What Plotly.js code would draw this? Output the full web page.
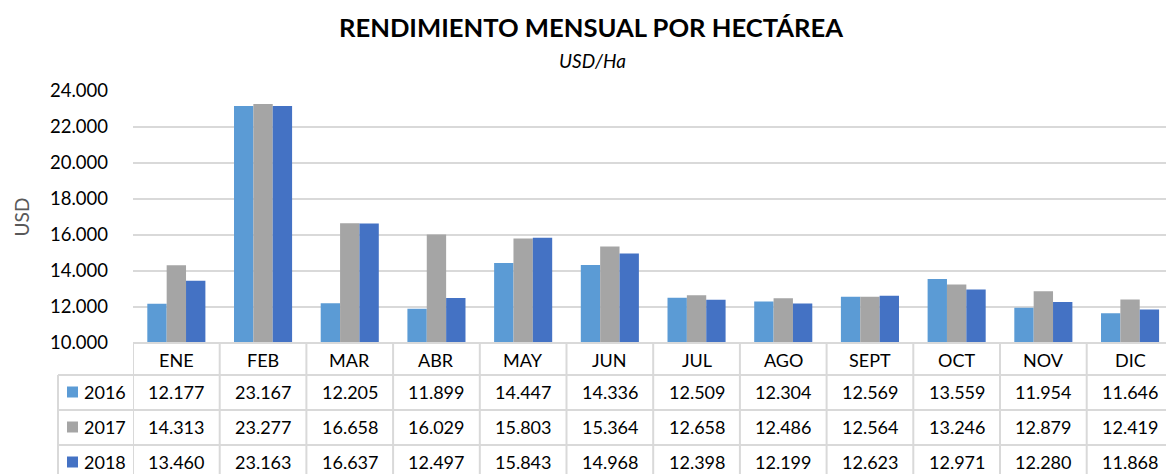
<!DOCTYPE html>
<html>
<head>
<meta charset="utf-8">
<script src="https://cdn.plot.ly/plotly-3.0.1.min.js"></script>
<style>
  html, body { margin: 0; padding: 0; background: #fff; }
</style>
</head>
<body>
<div id="chart" style="width:1166px;height:474px"></div>
<script>
const months = ['ENE', 'FEB', 'MAR', 'ABR', 'MAY', 'JUN', 'JUL', 'AGO', 'SEPT', 'OCT', 'NOV', 'DIC'];
const years = ['2016', '2017', '2018'];

const values2016 = [12177, 23167, 12205, 11899, 14447, 14336, 12509, 12304, 12569, 13559, 11954, 11646];
const values2017 = [14313, 23277, 16658, 16029, 15803, 15364, 12658, 12486, 12564, 13246, 12879, 12419];
const values2018 = [13460, 23163, 16637, 12497, 15843, 14968, 12398, 12199, 12623, 12971, 12280, 11868];

const series = [values2016, values2017, values2018];
const colors = ['#5B9BD5', '#A5A5A5', '#4472C4'];

// geometria en pixeles del area de trazado
const W = 1166, H = 474;
const L = 133, T = 91, B = 343;
const plotW = W - L, plotH = B - T;
const colW = 86.7;

const px = (x) => (x - L) / plotW;    // pixel -> paper x
const py = (y) => (B - y) / plotH;    // pixel -> paper y

const fmt = (v) => (v / 1000).toFixed(3);

const fontFamily = 'Lato, "Open Sans", sans-serif';
const grid = '#D9D9D9';

const data = years.map((year, i) => ({
  type: 'bar',
  name: year,
  x: months,
  y: series[i],
  marker: { color: colors[i] },
  hoverinfo: 'x+y+name',
}));

const annotations = [];
const shapes = [];

const label = (text, xref, x, y, extra = {}) => ({
  text,
  xref, yref: 'paper',
  x, y,
  xanchor: 'center',
  yanchor: 'middle',
  showarrow: false,
  font: { family: fontFamily, size: 18, color: '#000' },
  ...extra,
});

// subtitulo
annotations.push(label('<i>USD/Ha</i>', 'paper', px(592), py(61), {
  font: { family: fontFamily, size: 19, color: '#000' },
}));

// cabecera de la tabla (meses)
months.forEach((m) => annotations.push(label(m, 'x', m, py(360))));

// filas de la tabla
const rowCenters = [392, 427, 462];
years.forEach((year, i) => {
  annotations.push(label(year, 'paper', px(82), py(rowCenters[i]), { xanchor: 'left' }));
  shapes.push({
    type: 'rect',
    xref: 'paper', yref: 'paper',
    x0: px(67), x1: px(78),
    y0: py(rowCenters[i] - 5.5), y1: py(rowCenters[i] + 5.5),
    fillcolor: colors[i],
    line: { width: 0 },
  });
  series[i].forEach((v, j) => {
    annotations.push(label(fmt(v), 'x', months[j], py(rowCenters[i])));
  });
});

// lineas de la tabla
shapes.push({
  type: 'line', xref: 'paper', yref: 'paper',
  x0: 0, x1: 1.01, y0: 0, y1: 0,
  line: { color: grid, width: 2 },
});
[375, 410, 445].forEach((y) => {
  shapes.push({
    type: 'line', xref: 'paper', yref: 'paper',
    x0: px(58), x1: 1.01, y0: py(y), y1: py(y),
    line: { color: grid, width: 2 },
  });
});
for (let k = 0; k <= months.length; k++) {
  shapes.push({
    type: 'line', xref: 'x', yref: 'paper',
    x0: k - 0.5, x1: k - 0.5, y0: 0, y1: py(H + 5),
    line: { color: grid, width: 2 },
  });
}
shapes.push({
  type: 'line', xref: 'paper', yref: 'paper',
  x0: px(58), x1: px(58), y0: py(375), y1: py(H + 5),
  line: { color: grid, width: 2 },
});

const layout = {
  width: W,
  height: H,
  margin: { l: L, r: 0, t: T, b: H - B, pad: 0 },
  paper_bgcolor: '#fff',
  plot_bgcolor: '#fff',
  separators: ',.',
  showlegend: false,
  barmode: 'group',
  bargap: 0.33,
  bargroupgap: 0,
  font: { family: fontFamily, color: '#000' },

  title: {
    text: '<b>RENDIMIENTO MENSUAL POR HECTÁREA</b>',
    x: 591 / W,
    xanchor: 'center',
    y: 1 - 28.5 / H,
    yanchor: 'middle',
    font: { family: fontFamily, size: 25.6, color: '#000' },
  },

  xaxis: {
    type: 'category',
    range: [-0.5, -0.5 + plotW / colW],
    showticklabels: false,
    showgrid: false,
    zeroline: false,
    showline: false,
    ticks: '',
    fixedrange: true,
  },

  yaxis: {
    range: [10000, 24000],
    dtick: 2000,
    tickformat: ',d',
    showgrid: true,
    gridcolor: grid,
    gridwidth: 1.5,
    zeroline: false,
    showline: false,
    ticks: '',
    ticklabelstandoff: 24,
    tickfont: { family: fontFamily, size: 18.5, color: '#000' },
    title: {
      text: 'USD',
      standoff: 15,
      font: { family: fontFamily, size: 19, color: '#595959' },
    },
    fixedrange: true,
  },

  annotations,
  shapes,
};

Plotly.newPlot('chart', data, layout, { displayModeBar: false, staticPlot: true });
</script>
</body>
</html>
